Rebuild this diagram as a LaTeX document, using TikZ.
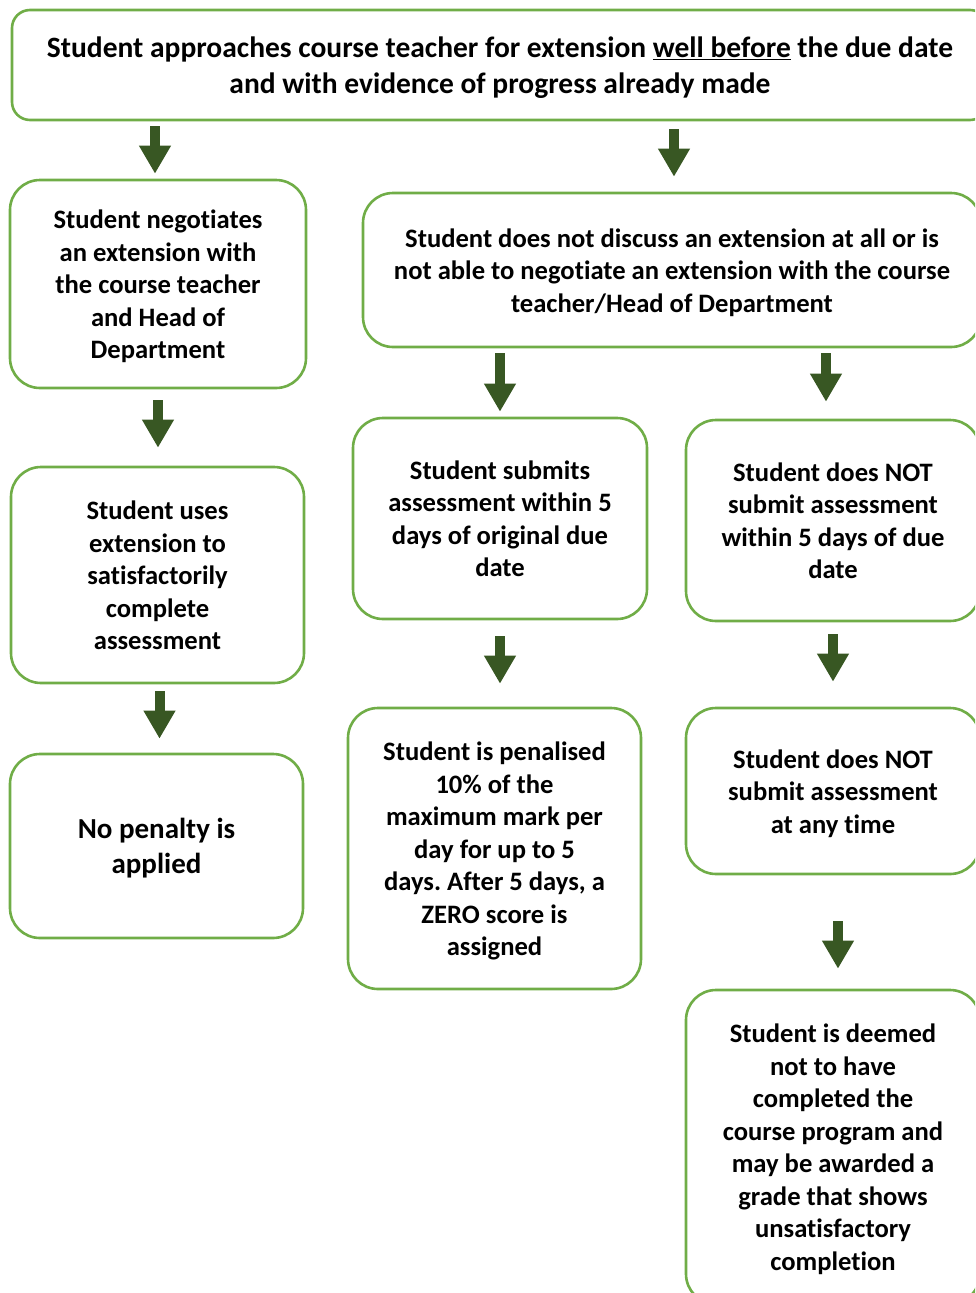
\documentclass[tikz,border=0pt]{standalone}
\usepackage{fontspec}
\setmainfont{Carlito}[RawFeature={-liga;-dlig;-calt;-rlig}]
\frenchspacing
\usetikzlibrary{arrows.meta}
\definecolor{boxgreen}{HTML}{70AD47}
\definecolor{arrgreen}{HTML}{385723}
\newcommand{\bxt}[1]{\raisebox{-3pt}[\height][\depth]{\begin{tabular}{@{}c@{}}#1\end{tabular}}}
\begin{document}
\begin{tikzpicture}[x=1pt,y=-1pt,
  box/.style={draw=boxgreen, line width=2.6pt, rounded corners=30pt, fill=white,
    inner sep=0pt, align=center, font=\bfseries\fontsize{26.6}{32.5}\selectfont},
  arr/.style={draw=arrgreen, line width=10pt,
    -{Triangle[width=30pt,length=28pt]}, shorten <=5pt, shorten >=5pt}]
\useasboundingbox (0,0) rectangle (975,1293);
\clip (0,0) rectangle (975,1293);
\node[box, rounded corners=18pt, minimum width=976pt, minimum height=110pt,
  font=\bfseries\fontsize{29.5}{36}\selectfont] (top) at (500,65)
  {\bxt{Student approaches course teacher for extension \underline{well before} the due date\\and with evidence of progress already made}};
\node[box, minimum width=296pt, minimum height=208pt] (b1) at (158,284)
  {\bxt{Student negotiates\\an extension with\\the course teacher\\and Head of\\Department}};
\node[box, minimum width=618pt, minimum height=154pt] (b2) at (672,270)
  {\bxt{Student does not discuss an extension at all or is\\not able to negotiate an extension with the course\\teacher/Head of Department}};
\node[box, minimum width=293pt, minimum height=216pt] (b3) at (157.5,575)
  {\bxt{Student uses\\extension to\\satisfactorily\\complete\\assessment}};
\node[box, minimum width=294pt, minimum height=201pt] (b4) at (500,518.5)
  {\bxt{Student submits\\assessment within 5\\days of original due\\date}};
\node[box, minimum width=294pt, minimum height=201pt] (b5) at (833,520.5)
  {\bxt{Student does NOT\\submit assessment\\within 5 days of due\\date}};
\node[box, minimum width=293pt, minimum height=184pt,
  font=\bfseries\fontsize{29}{35}\selectfont] (b6) at (156.5,846)
  {\bxt{No penalty is\\applied}};
\node[box, minimum width=293pt, minimum height=281pt] (b7) at (494.5,848.5)
  {\bxt{Student is penalised\\10\% of the\\maximum mark per\\day for up to 5\\days. After 5 days, a\\ZERO score is\\assigned}};
\node[box, minimum width=294pt, minimum height=166pt] (b8) at (833,791)
  {\bxt{Student does NOT\\submit assessment\\at any time}};
\node[box, minimum width=294pt, minimum height=314pt] (b9) at (833,1147)
  {\bxt{Student is deemed\\not to have\\completed the\\course program and\\may be awarded a\\grade that shows\\unsatisfactory\\completion}};
\draw[arr] ([xshift=-3pt]top.south -| b1.north) -- ([xshift=-3pt]b1.north);
\draw[arr, shorten <=8pt, shorten >=15pt] ([xshift=2pt]top.south -| b2.north) -- ([xshift=2pt]b2.north);
\draw[arr, shorten <=11pt, shorten >=18pt] (b1.south) -- (b1.south |- b3.north);
\draw[arr] (b2.south -| b4.north) -- (b4.north);
\draw[arr, shorten >=17pt] ([xshift=-7pt]b2.south -| b5.north) -- ([xshift=-7pt]b5.north);
\draw[arr, shorten <=7pt, shorten >=14pt] ([xshift=2pt]b3.south) -- ([xshift=2pt]b3.south |- b6.north);
\draw[arr, shorten <=16pt, shorten >=23pt] (b4.south) -- (b4.south |- b7.north);
\draw[arr, shorten <=12pt, shorten >=25pt] (b5.south) -- (b8.north);
\draw[arr, shorten <=46pt, shorten >=20pt] ([xshift=5pt]b8.south) -- ([xshift=5pt]b9.north);
\end{tikzpicture}
\end{document}
